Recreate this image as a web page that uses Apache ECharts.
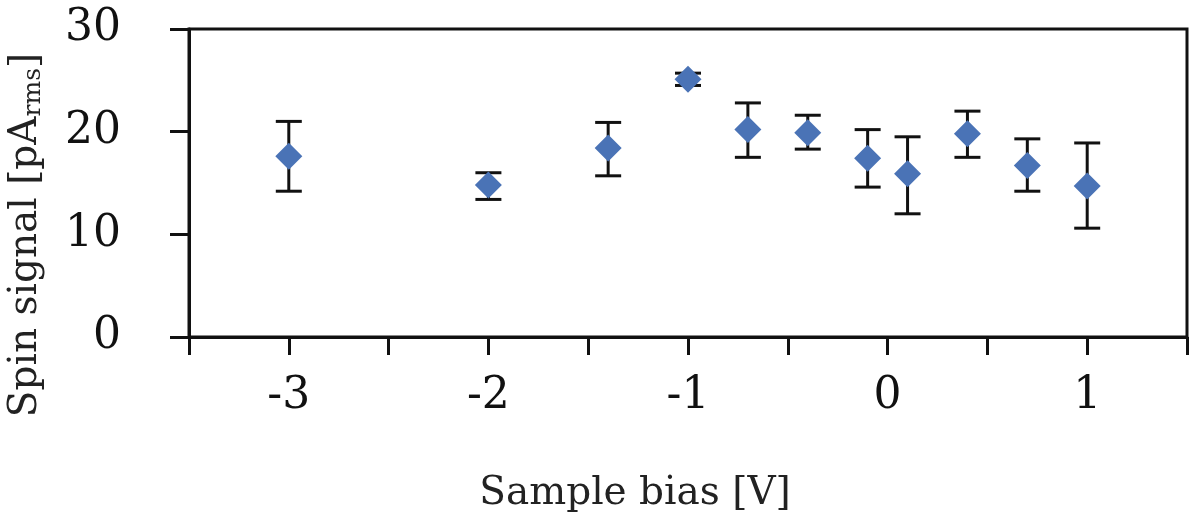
<!DOCTYPE html>
<html>
<head>
<meta charset="utf-8">
<script src="https://cdn.jsdelivr.net/npm/echarts@6/dist/echarts.min.js"></script>
<style>html,body{margin:0;padding:0;background:#fff}#c{width:1189px;height:520px}</style>
</head>
<body>
<div id="c"></div>
<script>
const biasV = [-3, -2, -1.4, -1, -0.7, -0.4, -0.1, 0.1, 0.4, 0.7, 1.0];
const spinSignal = [17.6, 14.8, 18.4, 25.1, 20.2, 19.9, 17.4, 15.9, 19.8, 16.7, 14.7];
const errLow = [14.2, 13.4, 15.7, 24.5, 17.5, 18.3, 14.6, 12.0, 17.5, 14.2, 10.6];
const errHigh = [21.0, 16.0, 20.9, 25.7, 22.8, 21.6, 20.2, 19.5, 22.0, 19.3, 18.9];
const yTicks = [0, 10, 20, 30];

const FONT = 'DejaVu Serif';
const chart = echarts.init(document.getElementById('c'));
const points = biasV.map((x, i) => [x, spinSignal[i]]);
const bars = biasV.map((x, i) => [x, errLow[i], errHigh[i]]);

chart.setOption({
  animation: false,
  backgroundColor: '#fff',
  grid: { left: 189, right: 2, top: 29, bottom: 183, outerBoundsMode: 'none', containLabel: false,
    show: true, borderColor: '#111', borderWidth: 3, backgroundColor: 'transparent' },
  xAxis: {
    type: 'value', min: -3.5, max: 1.5, interval: 0.5,
    name: 'Sample bias [V]', nameLocation: 'middle', nameGap: 137,
    nameTextStyle: { fontFamily: FONT, fontSize: 39, color: '#222', padding: [0, 106, 0, 0] },
    axisLine: { onZero: false, lineStyle: { color: '#111', width: 3 } },
    axisTick: { show: true, inside: false, length: 18, lineStyle: { color: '#111', width: 3 } },
    axisLabel: { fontFamily: FONT, fontSize: 44, color: '#111', margin: 38,
      formatter: v => Number.isInteger(v) ? String(v) : '' },
    splitLine: { show: false }
  },
  yAxis: {
    type: 'value', min: yTicks[0], max: yTicks[yTicks.length - 1], interval: 10,
    name: 'Spin signal [pA{sub|rms}]', nameLocation: 'middle', nameGap: 143, nameRotate: 90,
    nameTextStyle: { fontFamily: FONT, fontSize: 39, color: '#222', padding: [0, 104, 0, 0],
      rich: { sub: { fontFamily: FONT, fontSize: 25, color: '#222', verticalAlign: 'bottom', padding: [16, 0, 0, 0] } } },
    axisLine: { show: true, onZero: false, lineStyle: { color: '#111', width: 3 } },
    axisTick: { show: true, inside: false, length: 19, lineStyle: { color: '#111', width: 3 } },
    axisLabel: { fontFamily: FONT, fontSize: 44, color: '#111', margin: 68 },
    splitLine: { show: false }
  },
  series: [
    {
      type: 'custom',
      z: 2,
      data: bars,
      renderItem: function (params, api) {
        const x = api.value(0);
        const lo = api.coord([x, api.value(1)]);
        const hi = api.coord([x, api.value(2)]);
        const hw = 13;
        const style = { stroke: '#111', lineWidth: 3 };
        return {
          type: 'group',
          children: [
            { type: 'line', shape: { x1: lo[0], y1: lo[1], x2: hi[0], y2: hi[1] }, style },
            { type: 'line', shape: { x1: lo[0] - hw, y1: lo[1], x2: lo[0] + hw, y2: lo[1] }, style },
            { type: 'line', shape: { x1: hi[0] - hw, y1: hi[1], x2: hi[0] + hw, y2: hi[1] }, style }
          ]
        };
      }
    },
    {
      type: 'scatter',
      z: 5,
      symbol: 'diamond',
      symbolSize: [27, 27],
      itemStyle: { color: '#4a73b6', opacity: 1 },
      data: points
    }
  ]
});
</script>
</body>
</html>
